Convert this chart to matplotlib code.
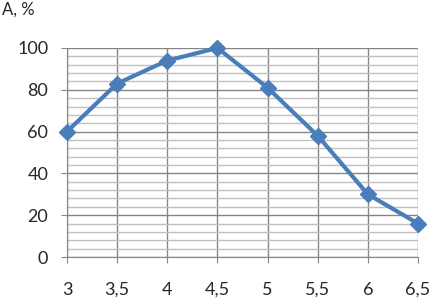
import numpy as np
import matplotlib.pyplot as plt
from matplotlib.ticker import MultipleLocator

x = [3, 3.5, 4, 4.5, 5, 5.5, 6, 6.5]
a = [60, 83, 94, 100, 81, 58, 30, 16]
xlabels = ['3', '3,5', '4', '4,5', '5', '5,5', '6', '6,5']

plt.rcParams['font.family'] = ['Lato', 'DejaVu Sans']

fig = plt.figure(figsize=(4.31, 2.98), dpi=100)
ax = fig.add_axes([67/431, 1-257/298, (418-67)/431, (257-48)/298])

ax.set_xlim(3, 6.5)
ax.set_ylim(0, 100)
ax.set_xticks(x)
ax.set_xticklabels(xlabels)
ax.yaxis.set_major_locator(MultipleLocator(20))
ax.yaxis.set_minor_locator(MultipleLocator(4))

# major grid darker, minor grid lighter
ax.grid(axis='y', which='major', color='#868686', lw=1)
ax.grid(axis='y', which='minor', color='#c0c0c0', lw=1)
ax.grid(axis='x', which='major', color='#868686', lw=1)
ax.set_axisbelow(True)

for s in ['top', 'right']:
    ax.spines[s].set_visible(False)
ax.spines['left'].set_color('#868686')
ax.spines['bottom'].set_color('#868686')

ax.tick_params(axis='both', which='major', color='#868686', length=4,
               labelsize=13, labelcolor='#262626')
ax.tick_params(axis='x', pad=14)
ax.tick_params(axis='y', pad=9.5)
ax.tick_params(which='minor', length=0)

ax.plot(x, a, color='#4a7ebb', lw=3, marker='D', ms=8, clip_on=False, zorder=3)

fig.text(2/431, 1-10/298, 'A, %', fontsize=12, color='#262626', va='center', ha='left')

fig.savefig('out.png', dpi=100)
